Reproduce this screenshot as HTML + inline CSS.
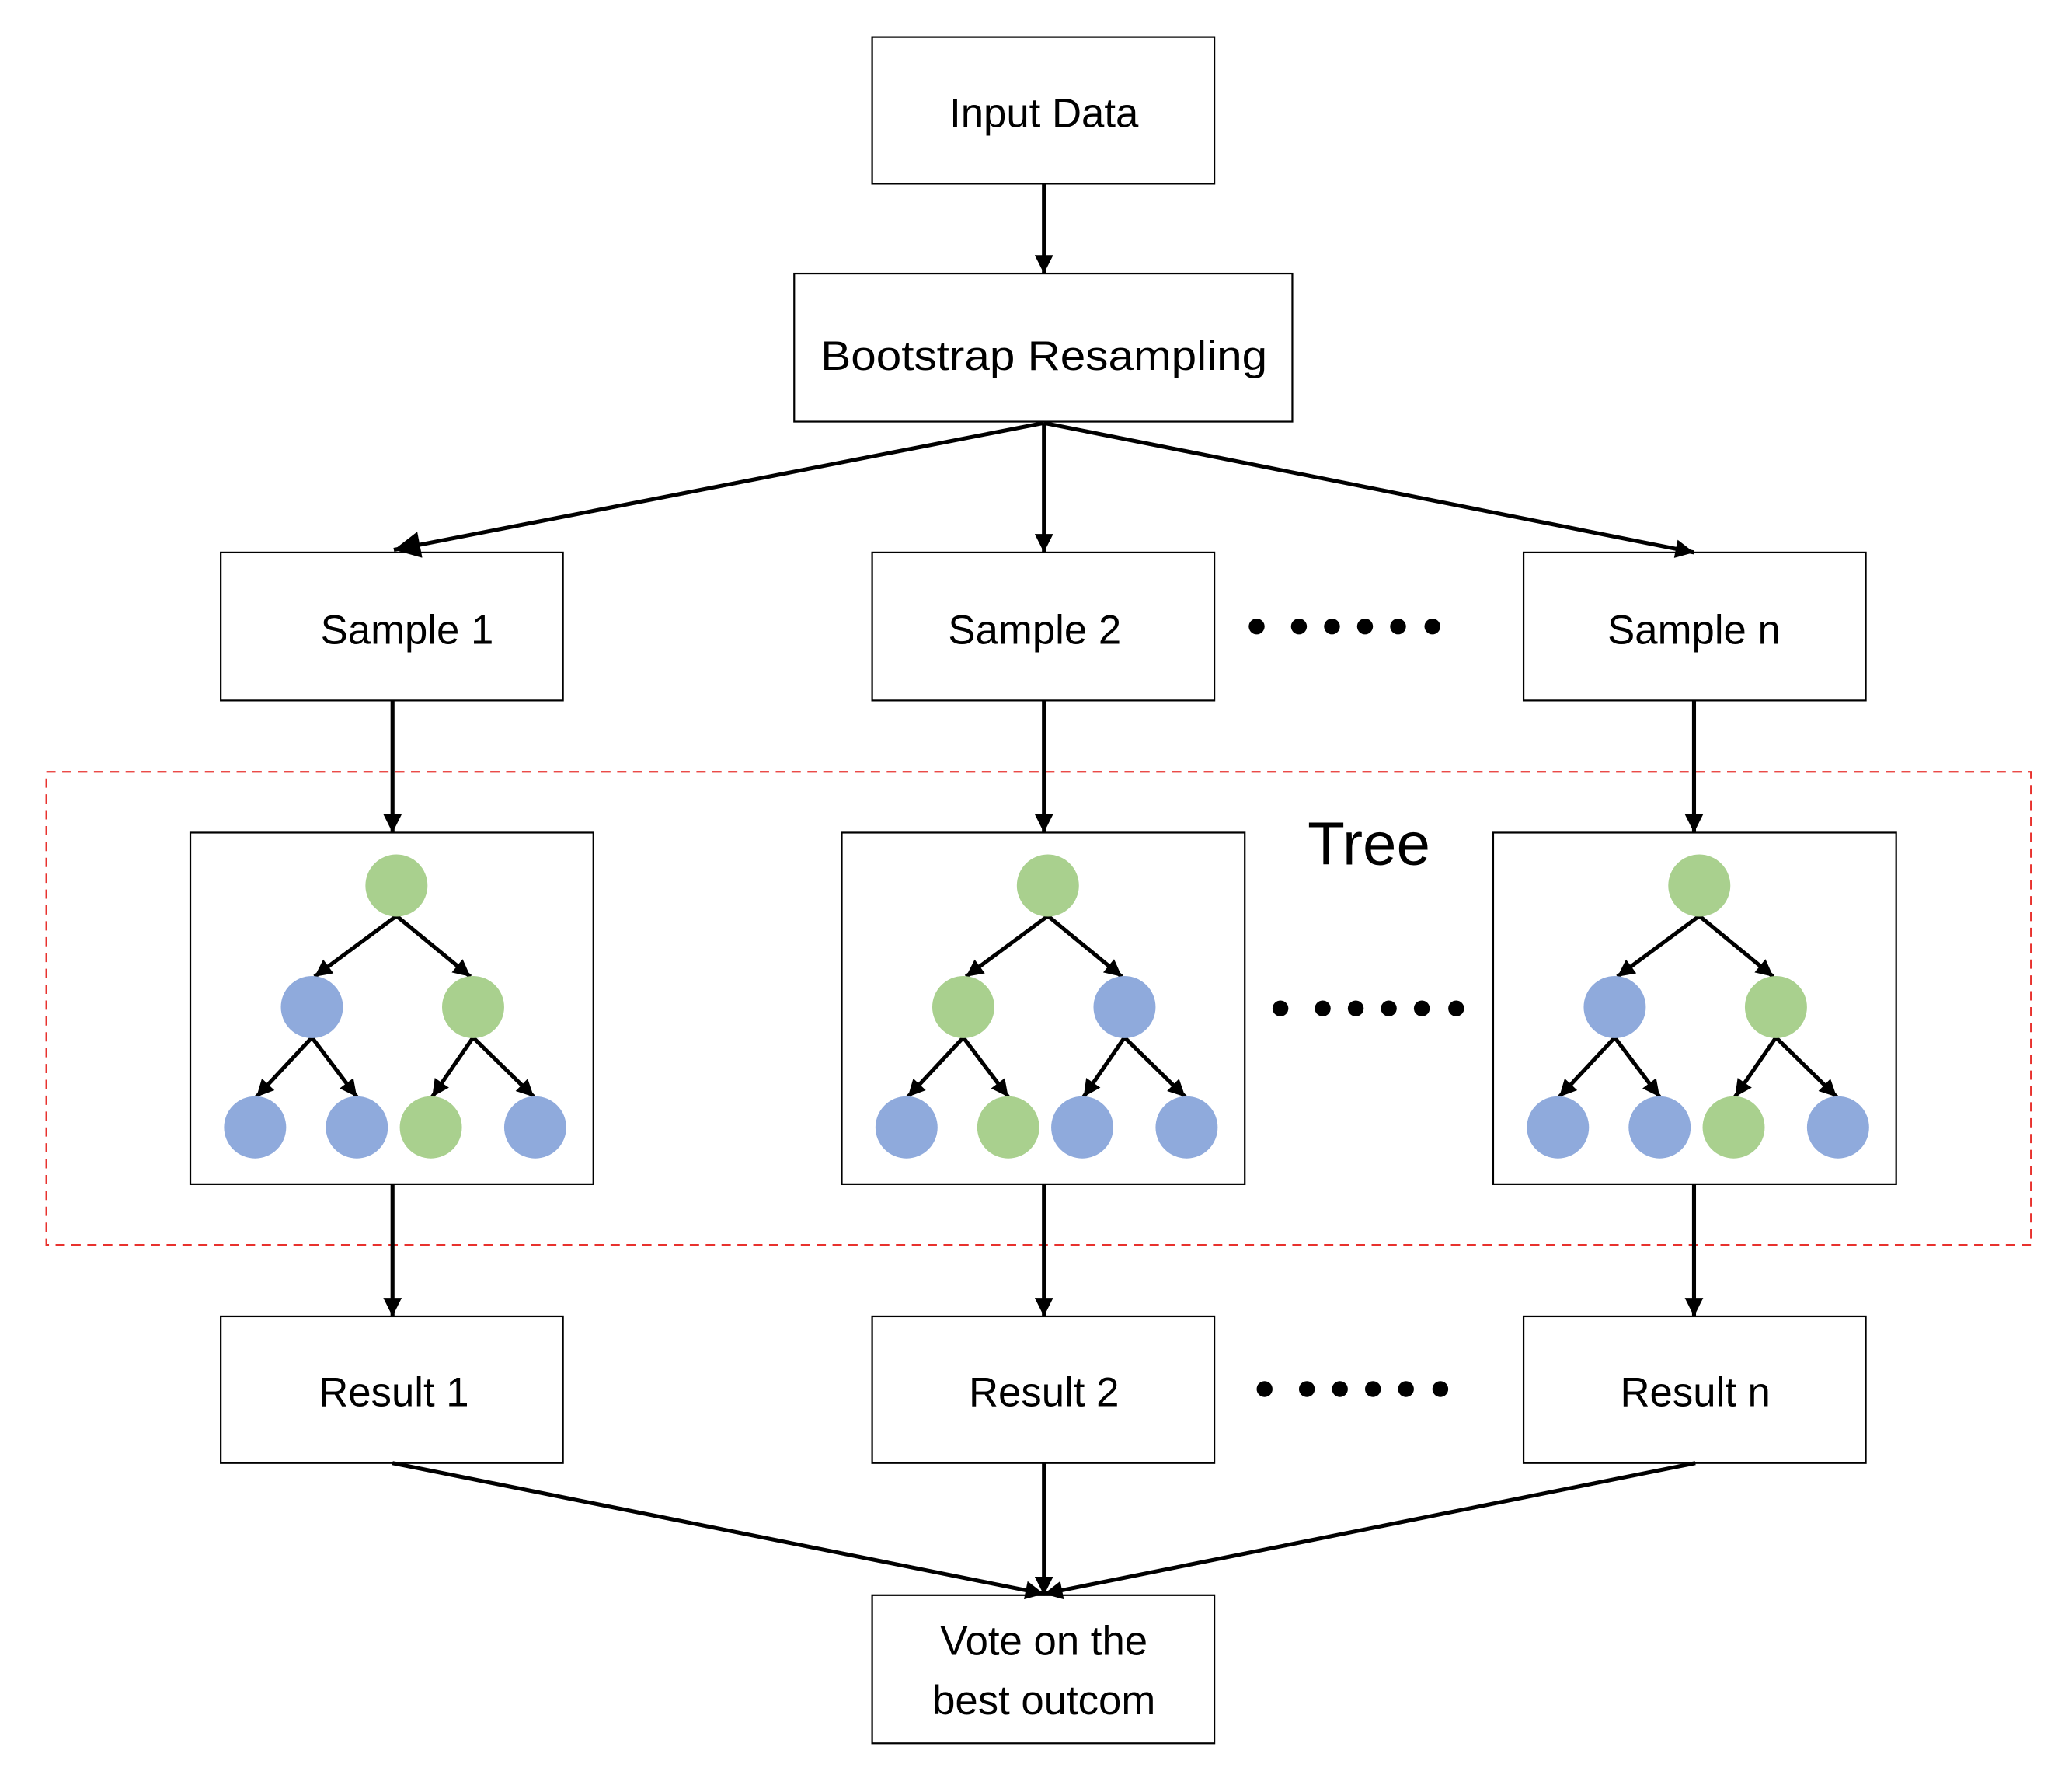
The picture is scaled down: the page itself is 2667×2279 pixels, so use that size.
<!DOCTYPE html>
<html><head><meta charset="utf-8"><style>html,body{margin:0;padding:0;background:#fff}svg{display:block}</style></head>
<body>
<svg width="2667" height="2279" viewBox="0 0 1568 1340" xmlns="http://www.w3.org/2000/svg" font-family="'Liberation Sans', sans-serif">
<defs>
<marker id="a" viewBox="0 0 10 10" refX="10" refY="5" markerWidth="16" markerHeight="13" markerUnits="userSpaceOnUse" orient="auto"><path d="M0,0 L10,5 L0,10 Z" fill="#000"/></marker>
<marker id="b" viewBox="0 0 10 10" refX="10" refY="5" markerWidth="20" markerHeight="14" markerUnits="userSpaceOnUse" orient="auto"><path d="M0,0 L10,5 L0,10 Z" fill="#000"/></marker>
<marker id="c" viewBox="0 0 10 10" refX="10" refY="5" markerWidth="28" markerHeight="20" markerUnits="userSpaceOnUse" orient="auto"><path d="M0,0 L10,5 L0,10 Z" fill="#000"/></marker>
</defs>
<rect width="1568" height="1340" fill="#fff"/>
<rect x="35" y="584" width="1502" height="358" fill="none" stroke="#e8322e" stroke-width="1.3" stroke-dasharray="7,5"/>
<g fill="none" stroke="#000" stroke-width="1.3">
<rect x="660" y="28" width="259" height="111"/>
<rect x="601" y="207" width="377" height="112"/>
<rect x="167" y="418" width="259" height="112"/>
<rect x="660" y="418" width="259" height="112"/>
<rect x="1153" y="418" width="259" height="112"/>
<rect x="144" y="630" width="305" height="266"/>
<rect x="637" y="630" width="305" height="266"/>
<rect x="1130" y="630" width="305" height="266"/>
<rect x="167" y="996" width="259" height="111"/>
<rect x="660" y="996" width="259" height="111"/>
<rect x="1153" y="996" width="259" height="111"/>
<rect x="660" y="1207" width="259" height="112"/>
</g>
<g stroke="#000" stroke-width="3" marker-end="url(#b)">
<line x1="790" y1="139" x2="790" y2="207"/>
<line x1="790" y1="320" x2="790" y2="418"/>
<line x1="790" y1="320" x2="1282" y2="418"/>
<line x1="297" y1="530" x2="297" y2="630"/>
<line x1="790" y1="530" x2="790" y2="630"/>
<line x1="1282" y1="530" x2="1282" y2="630"/>
<line x1="297" y1="896" x2="297" y2="996"/>
<line x1="790" y1="896" x2="790" y2="996"/>
<line x1="1282" y1="896" x2="1282" y2="996"/>
<line x1="297" y1="1107" x2="790" y2="1206"/>
<line x1="790" y1="1107" x2="790" y2="1207"/>
<line x1="1283" y1="1107" x2="790" y2="1206"/>
</g>
<line x1="790" y1="320" x2="298" y2="416" stroke="#000" stroke-width="3" marker-end="url(#c)"/>
<g font-size="31" text-anchor="middle" fill="#000">
<text x="790" y="96">Input Data</text>
<text x="790" y="280" textLength="338" lengthAdjust="spacingAndGlyphs">Bootstrap Resampling</text>
<text x="308" y="487">Sample 1</text>
<text x="783" y="487">Sample 2</text>
<text x="1282" y="487">Sample n</text>
<text x="298" y="1064">Result 1</text>
<text x="790" y="1064">Result 2</text>
<text x="1283" y="1064">Result n</text>
<text x="790" y="1252">Vote on the</text>
<text x="790" y="1297">best outcom</text>
<text x="1036" y="654" font-size="46">Tree</text>
</g>
<g fill="#000">
<circle cx="951" cy="474" r="6"/><circle cx="983" cy="474" r="6"/><circle cx="1008" cy="474" r="6"/><circle cx="1033" cy="474" r="6"/><circle cx="1058" cy="474" r="6"/><circle cx="1084" cy="474" r="6"/>
<circle cx="969" cy="763" r="6"/><circle cx="1001" cy="763" r="6"/><circle cx="1026" cy="763" r="6"/><circle cx="1051" cy="763" r="6"/><circle cx="1076" cy="763" r="6"/><circle cx="1102" cy="763" r="6"/>
<circle cx="957" cy="1051" r="6"/><circle cx="989" cy="1051" r="6"/><circle cx="1014" cy="1051" r="6"/><circle cx="1039" cy="1051" r="6"/><circle cx="1064" cy="1051" r="6"/><circle cx="1090" cy="1051" r="6"/>
</g>
<g>
<g stroke="#000" stroke-width="3" marker-end="url(#a)">
<line x1="300" y1="693" x2="238" y2="739"/><line x1="300" y1="693" x2="356" y2="739"/>
<line x1="236" y1="785" x2="194" y2="830"/><line x1="236" y1="785" x2="270" y2="830"/>
<line x1="358" y1="785" x2="327" y2="830"/><line x1="358" y1="785" x2="404" y2="830"/>
</g>
<circle cx="300" cy="670" r="23.5" fill="#A9D08E"/>
<circle cx="236" cy="762" r="23.5" fill="#8FAADC"/><circle cx="358" cy="762" r="23.5" fill="#A9D08E"/>
<circle cx="193" cy="853" r="23.5" fill="#8FAADC"/><circle cx="270" cy="853" r="23.5" fill="#8FAADC"/><circle cx="326" cy="853" r="23.5" fill="#A9D08E"/><circle cx="405" cy="853" r="23.5" fill="#8FAADC"/>
</g>
<g transform="translate(493,0)">
<g stroke="#000" stroke-width="3" marker-end="url(#a)">
<line x1="300" y1="693" x2="238" y2="739"/><line x1="300" y1="693" x2="356" y2="739"/>
<line x1="236" y1="785" x2="194" y2="830"/><line x1="236" y1="785" x2="270" y2="830"/>
<line x1="358" y1="785" x2="327" y2="830"/><line x1="358" y1="785" x2="404" y2="830"/>
</g>
<circle cx="300" cy="670" r="23.5" fill="#A9D08E"/>
<circle cx="236" cy="762" r="23.5" fill="#A9D08E"/><circle cx="358" cy="762" r="23.5" fill="#8FAADC"/>
<circle cx="193" cy="853" r="23.5" fill="#8FAADC"/><circle cx="270" cy="853" r="23.5" fill="#A9D08E"/><circle cx="326" cy="853" r="23.5" fill="#8FAADC"/><circle cx="405" cy="853" r="23.5" fill="#8FAADC"/>
</g>
<g transform="translate(986,0)">
<g stroke="#000" stroke-width="3" marker-end="url(#a)">
<line x1="300" y1="693" x2="238" y2="739"/><line x1="300" y1="693" x2="356" y2="739"/>
<line x1="236" y1="785" x2="194" y2="830"/><line x1="236" y1="785" x2="270" y2="830"/>
<line x1="358" y1="785" x2="327" y2="830"/><line x1="358" y1="785" x2="404" y2="830"/>
</g>
<circle cx="300" cy="670" r="23.5" fill="#A9D08E"/>
<circle cx="236" cy="762" r="23.5" fill="#8FAADC"/><circle cx="358" cy="762" r="23.5" fill="#A9D08E"/>
<circle cx="193" cy="853" r="23.5" fill="#8FAADC"/><circle cx="270" cy="853" r="23.5" fill="#8FAADC"/><circle cx="326" cy="853" r="23.5" fill="#A9D08E"/><circle cx="405" cy="853" r="23.5" fill="#8FAADC"/>
</g>
</svg>
</body></html>
